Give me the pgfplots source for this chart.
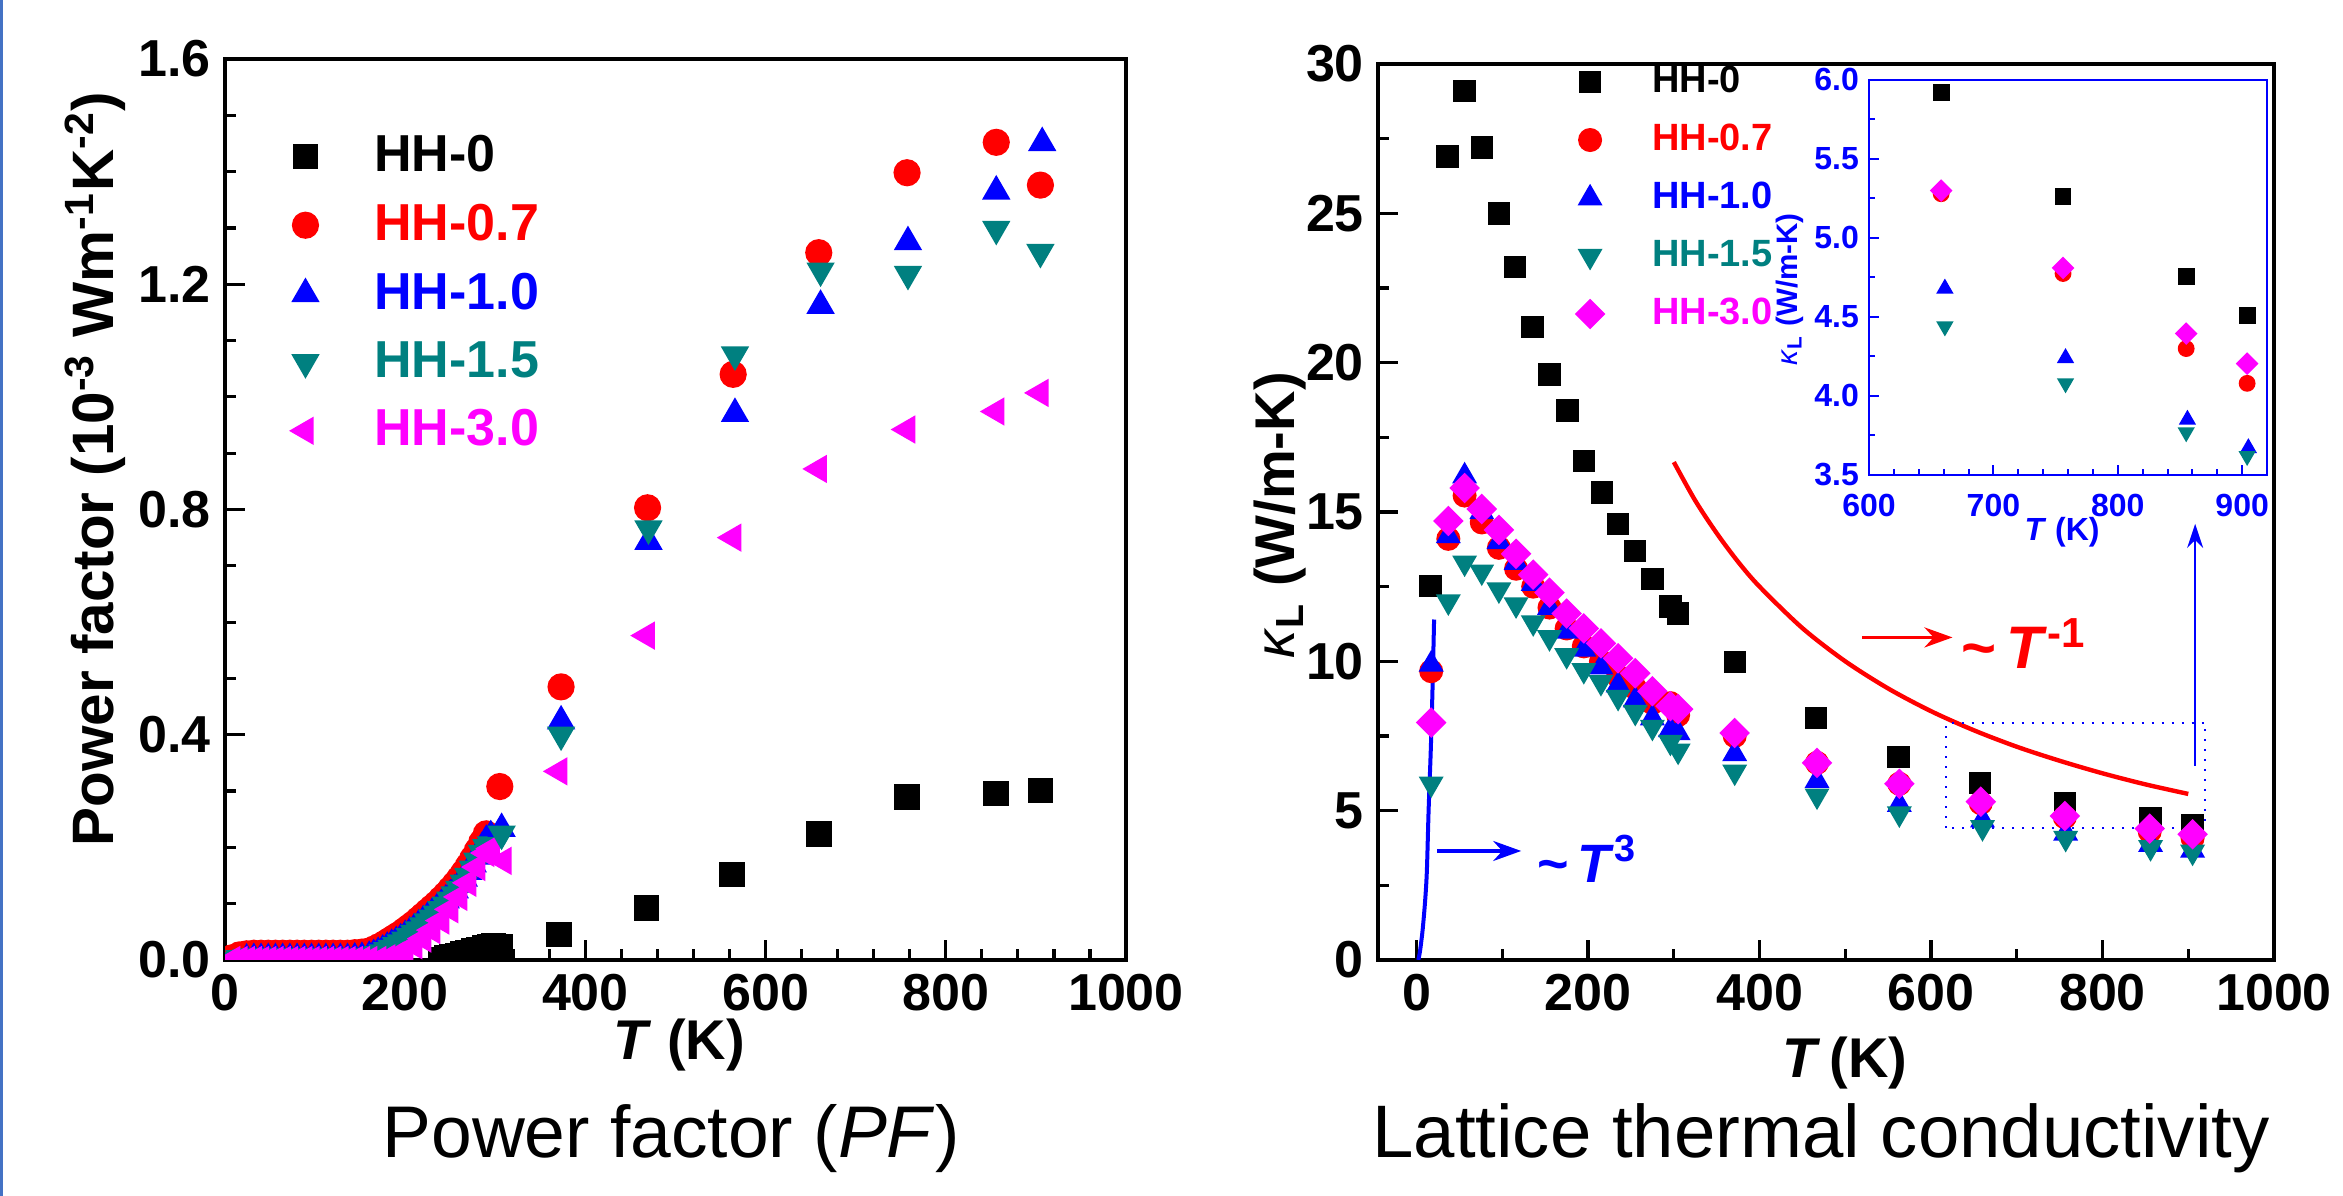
\documentclass[border=0pt]{standalone}
\usepackage{pgfplots}
\pgfplotsset{compat=1.18}
\usepackage{fontspec}
\setmainfont{Liberation Sans}
\usetikzlibrary{arrows.meta}
\definecolor{hhteal}{RGB}{0,128,128}
\definecolor{hhmag}{RGB}{255,0,255}
\definecolor{frameblue}{RGB}{68,114,196}
\newcommand\tickfont{\bfseries\fontsize{13}{15}\selectfont}
\newcommand\labfont{\bfseries\fontsize{14}{16}\selectfont}

\pgfplotsset{
  common/.style={
    scale only axis,
    axis line style={line width=0.9pt},
    every tick/.style={black, line width=0.8pt},
    major tick length=5pt,
    minor tick length=2.7pt,
    tick pos=left,
    tick align=inside,
    tick label style={font=\tickfont},
    /pgf/number format/assume math mode=true,
    /pgf/number format/1000 sep={},
    legend cell align=left,
    legend image code/.code={\draw[mark repeat=2,mark phase=2,##1] plot coordinates {(0pt,0pt) (5pt,0pt) (10pt,0pt)};},
  },
  lsq/.style={only marks, mark=square*, mark size=3.0pt, black},
  lci/.style={only marks, mark=*, mark size=3.2pt, red},
  ltu/.style={only marks, mark=triangle*, mark size=3.7pt, blue},
  ltd/.style={only marks, mark=triangle*, mark size=3.7pt, hhteal, mark options={rotate=180}},
  ltl/.style={only marks, mark=triangle*, mark size=3.7pt, hhmag, mark options={rotate=90}},
  rsq/.style={only marks, mark=square*, mark size=2.6pt, black},
  rci/.style={only marks, mark=*, mark size=2.8pt, red},
  rtu/.style={only marks, mark=triangle*, mark size=3.2pt, blue},
  rtd/.style={only marks, mark=triangle*, mark size=3.2pt, hhteal, mark options={rotate=180}},
  rdi/.style={only marks, mark=square*, mark size=2.5pt, hhmag, mark options={rotate=45}},
}

\begin{document}
\begin{tikzpicture}
\path[use as bounding box] (0,0) rectangle (585.75pt,299pt);
\draw[frameblue, line width=0.6pt] (0.4pt,0) -- (0.4pt,299pt);

% ---------------- Left: power factor ----------------
\begin{axis}[common,
  at={(56.25pt,59pt)}, anchor=south west,
  width=225.25pt, height=225.25pt,
  xmin=0, xmax=1000, ymin=0, ymax=1.6,
  xtick={0,200,400,600,800,1000}, minor x tick num=4,
  ytick={0,0.4,0.8,1.2,1.6}, minor y tick num=3,
  yticklabel style={/pgf/number format/fixed, /pgf/number format/fixed zerofill, /pgf/number format/precision=1},
  xlabel={\textit{T} (K)},
  xlabel style={at={(axis description cs:0.504,-0.094)}, anchor=center, font=\labfont},
  ylabel={Power factor (10\textsuperscript{-3} Wm\textsuperscript{-1}K\textsuperscript{-2})},
  ylabel style={at={(axis description cs:-0.144,0.545)}, anchor=center, font=\bfseries\fontsize{14.6}{16}\selectfont},
  clip marker paths=true,
  legend style={draw=none, fill=none, at={(0.072,0.925)}, anchor=north west,
    font=\bfseries\fontsize{13}{13}\selectfont, inner sep=0pt, row sep=2.6pt,
    /tikz/every odd column/.append style={column sep=12pt}},
]
% dense low-temperature data (forget plot)
\addplot[lsq, forget plot] coordinates {(210,-0.012)(216,-0.009)(222,-0.007)(228,-0.004)(234,-0.002)(240,0.001)(246,0.003)(252,0.006)(258,0.008)(264,0.011)(270,0.013)(276,0.016)(282,0.018)(288,0.021)(294,0.024)(298,0.026)};
\addplot[lci, forget plot] coordinates {(8,0.004)(16,0.009)(24,0.011)(32,0.012)(40,0.012)(48,0.012)(56,0.012)(64,0.012)(72,0.012)(80,0.012)(88,0.012)(96,0.012)(104,0.012)(112,0.012)(120,0.012)(128,0.012)(136,0.012)(144,0.013)(152,0.014)(160,0.016)(165,0.019)(170,0.023)(175,0.027)(180,0.032)(185,0.037)(190,0.042)(195,0.047)(200,0.053)(205,0.059)(210,0.065)(215,0.072)(220,0.079)(225,0.086)(230,0.093)(235,0.100)(240,0.108)(245,0.116)(250,0.125)(255,0.134)(260,0.144)(265,0.155)(270,0.167)(275,0.180)(280,0.194)(285,0.209)(290,0.224)};
\addplot[ltu, forget plot] coordinates {(8,-0.006)(16,-0.001)(24,0.001)(32,0.002)(40,0.002)(48,0.002)(56,0.002)(64,0.002)(72,0.002)(80,0.002)(88,0.002)(96,0.002)(104,0.002)(112,0.002)(120,0.002)(128,0.002)(136,0.002)(144,0.003)(152,0.004)(160,0.006)(165,0.009)(170,0.013)(175,0.017)(180,0.022)(185,0.027)(190,0.032)(195,0.037)(200,0.043)(205,0.049)(210,0.055)(215,0.062)(220,0.069)(225,0.076)(230,0.083)(235,0.090)(240,0.098)(245,0.106)(250,0.115)(255,0.124)(260,0.134)(265,0.145)(270,0.157)(275,0.170)(280,0.184)(285,0.199)(290,0.212)(295,0.220)};
\addplot[ltd, forget plot] coordinates {(8,0.000)(16,0.003)(24,0.005)(32,0.006)(40,0.006)(48,0.006)(56,0.006)(64,0.006)(72,0.006)(80,0.006)(88,0.006)(96,0.006)(104,0.006)(112,0.006)(120,0.006)(128,0.006)(136,0.006)(144,0.006)(152,0.006)(160,0.007)(165,0.008)(170,0.010)(175,0.013)(180,0.017)(185,0.021)(190,0.026)(195,0.031)(200,0.036)(205,0.042)(210,0.048)(215,0.054)(220,0.061)(225,0.068)(230,0.075)(235,0.082)(240,0.090)(245,0.098)(250,0.107)(255,0.116)(260,0.126)(265,0.137)(270,0.149)(275,0.162)(280,0.176)(285,0.190)(290,0.200)(295,0.205)};
\addplot[ltl, forget plot] coordinates {(8,0.000)(16,0.000)(24,0.000)(32,0.000)(40,0.000)(48,0.000)(56,0.000)(64,0.000)(72,0.000)(80,0.000)(88,0.000)(96,0.000)(104,0.000)(112,0.000)(120,0.000)(128,0.000)(136,0.000)(144,0.000)(152,0.000)(160,0.000)(170,0.000)(180,0.003)(190,0.008)(200,0.016)(210,0.026)(220,0.038)(230,0.053)(240,0.070)(250,0.090)(260,0.112)(270,0.137)(280,0.165)(290,0.190)(296,0.198)};
% main points
\addplot[lsq] coordinates {(305,0.024)(371,0.045)(468,0.092)(563,0.152)(659,0.224)(757,0.289)(856,0.296)(905,0.301)};
\addlegendentry{HH-0}
\addplot[lci] coordinates {(305,0.308)(373,0.485)(469,0.803)(564,1.040)(659,1.256)(757,1.398)(856,1.452)(905,1.376)};
\addlegendentry{\textcolor{red}{HH-0.7}}
\addplot[ltu] coordinates {(307,0.233)(373,0.424)(470,0.743)(566,0.970)(661,1.162)(758,1.275)(856,1.365)(907,1.451)};
\addlegendentry{\textcolor{blue}{HH-1.0}}
\addplot[ltd] coordinates {(307,0.224)(373,0.400)(470,0.766)(566,1.075)(661,1.224)(758,1.218)(856,1.298)(905,1.257)};
\addlegendentry{\textcolor{hhteal}{HH-1.5}}
\addplot[ltl] coordinates {(309,0.176)(371,0.335)(468,0.576)(564,0.750)(659,0.872)(757,0.942)(856,0.974)(905,1.007)};
\addlegendentry{\textcolor{hhmag}{HH-3.0}}
\end{axis}

% ---------------- Right: lattice thermal conductivity ----------------
\begin{axis}[common,
  at={(344.5pt,59pt)}, anchor=south west,
  width=224pt, height=224pt,
  xmin=-45, xmax=1000, ymin=0, ymax=30,
  xtick={0,200,400,600,800,1000}, minor x tick num=1,
  ytick={0,5,10,15,20,25,30}, minor y tick num=1,
  xlabel={\textit{T}\,(K)},
  xlabel style={at={(axis description cs:0.521,-0.115)}, anchor=center, font=\labfont},
  ylabel={\textit{\mdseries κ}\textsubscript{L} (W/m-K)},
  ylabel style={at={(axis description cs:-0.109,0.496)}, anchor=center, font=\labfont},
  legend style={draw=none, fill=none, at={(0.22,1.008)}, anchor=north west,
    font=\bfseries\fontsize{9.5}{9.5}\selectfont, inner sep=0pt, row sep=2.4pt,
    /tikz/every odd column/.append style={column sep=10pt}},
]
\addplot[blue, line width=1pt, smooth, forget plot] coordinates {(2,0)(4,0.3)(7,1)(10,2)(12,3)(14,5)(16.5,7)(18.5,9)(20.4,11.4)};
\addplot[red, line width=1.1pt, smooth, forget plot] coordinates {(300,16.67)(325,15.38)(350,14.29)(375,13.33)(400,12.5)(450,11.11)(500,10)(550,9.09)(600,8.33)(650,7.69)(700,7.14)(750,6.67)(800,6.25)(850,5.88)(900,5.56)};
\addplot[rsq] coordinates {(16,12.53)(36,26.9)(56,29.1)(76,27.2)(96,25.0)(115,23.2)(135,21.2)(155,19.6)(176,18.4)(195,16.7)(216,15.65)(235,14.6)(255,13.7)(275,12.75)(296,11.84)(305,11.6)(371,9.97)(466,8.1)(562,6.8)(657,5.92)(756,5.26)(856,4.75)(905,4.51)};
\addlegendentry{HH-0}
\addplot[rci] coordinates {(17,9.67)(37,14.1)(56,15.55)(76,14.65)(96,13.8)(116,13.1)(136,12.5)(155,11.8)(175,11.1)(195,10.5)(215,10.0)(235,9.5)(255,9.1)(275,8.6)(296,8.6)(305,8.2)(371,7.5)(467,6.6)(563,5.9)(658,5.25)(756,4.78)(855,4.30)(905,4.08)};
\addlegendentry{\textcolor{red}{HH-0.7}}
\addplot[rtu] coordinates {(17,9.9)(37,14.2)(56,16.2)(76,15.0)(96,14.0)(116,13.3)(136,12.6)(155,11.8)(175,11.0)(195,10.4)(215,9.8)(235,9.2)(255,8.7)(275,8.1)(296,7.7)(305,7.6)(371,6.9)(467,6.0)(563,5.2)(660,4.68)(757,4.24)(856,3.86)(905,3.67)};
\addlegendentry{\textcolor{blue}{HH-1.0}}
\addplot[rtd] coordinates {(17,5.9)(37,12.0)(56,13.3)(76,13.0)(96,12.4)(116,11.9)(136,11.3)(155,10.8)(175,10.2)(195,9.7)(215,9.3)(235,8.8)(255,8.3)(275,7.8)(296,7.3)(305,7.0)(371,6.3)(467,5.5)(563,4.9)(660,4.44)(757,4.08)(856,3.77)(905,3.62)};
\addlegendentry{\textcolor{hhteal}{HH-1.5}}
\addplot[rdi] coordinates {(17,7.95)(37,14.7)(56,15.8)(76,15.1)(96,14.4)(116,13.6)(136,12.9)(155,12.3)(175,11.6)(195,11.1)(215,10.6)(235,10.1)(255,9.6)(275,9.0)(296,8.5)(305,8.4)(371,7.6)(467,6.6)(563,5.9)(658,5.30)(756,4.82)(855,4.40)(905,4.21)};
\addlegendentry{\textcolor{hhmag}{HH-3.0}}
% annotations
\draw[blue, line width=0.9pt, -{Stealth[length=7pt,width=5pt]}] (axis cs:24,3.65) -- (axis cs:122,3.65);
\node[anchor=west, text=blue, font=\bfseries\fontsize{13.5}{14}\selectfont, inner sep=0pt] at (axis cs:140,3.4) {\textasciitilde\,\textit{T}\textsuperscript{3}};
\draw[red, line width=0.9pt, -{Stealth[length=7pt,width=5pt]}] (axis cs:520,10.8) -- (axis cs:625,10.8);
\node[anchor=west, text=red, font=\bfseries\fontsize{15}{15}\selectfont, inner sep=0pt] at (axis cs:635,10.6) {\textasciitilde\,\textit{T}\textsuperscript{-1}};
\draw[blue, dotted, line width=0.5pt] (axis cs:618,4.42) rectangle (axis cs:920,7.93);
\draw[blue, line width=0.5pt, -{Stealth[length=6pt,width=4pt]}] (axis cs:908,6.5) -- (axis cs:908,14.6);
\end{axis}

% ---------------- Inset ----------------
\begin{axis}[
  scale only axis,
  at={(467.25pt,180.25pt)}, anchor=south west,
  width=99.5pt, height=98.75pt,
  xmin=600, xmax=920, ymin=3.5, ymax=6.0,
  xtick={600,700,800,900}, minor x tick num=4,
  ytick={3.5,4.0,4.5,5.0,5.5,6.0}, minor y tick num=1,
  axis line style={blue, line width=0.6pt},
  every tick/.style={blue, line width=0.5pt},
  major tick length=2.5pt, minor tick length=1.5pt,
  tick pos=left, tick align=inside,
  tick label style={font=\bfseries\fontsize{8}{9}\selectfont, text=blue},
  /pgf/number format/assume math mode=true,
  yticklabel style={/pgf/number format/fixed, /pgf/number format/fixed zerofill, /pgf/number format/precision=1, xshift=1pt},
  xticklabel style={yshift=-1.2pt},
  xlabel={\textit{T} (K)},
  xlabel style={at={(axis description cs:0.485,-0.145)}, anchor=center, font=\bfseries\fontsize{8}{9}\selectfont, text=blue},
  ylabel={\textit{\mdseries κ}\textsubscript{L} (W/m-K)},
  ylabel style={at={(axis description cs:-0.2,0.47)}, anchor=center, font=\bfseries\fontsize{7.4}{8}\selectfont, text=blue},
]
\addplot[only marks, mark=square*, mark size=1.9pt, black] coordinates {(658,5.92)(756,5.26)(855,4.755)(904,4.51)};
\addplot[only marks, mark=*, mark size=1.9pt, red] coordinates {(658,5.28)(756,4.775)(855,4.30)(904,4.08)};
\addplot[only marks, mark=triangle*, mark size=2.1pt, blue] coordinates {(661,4.68)(758,4.24)(856,3.85)(905,3.67)};
\addplot[only marks, mark=triangle*, mark size=2.1pt, hhteal, mark options={rotate=180}] coordinates {(661,4.44)(758,4.08)(855,3.77)(904,3.62)};
\addplot[only marks, mark=square*, mark size=1.8pt, hhmag, mark options={rotate=45}] coordinates {(658,5.30)(756,4.81)(855,4.395)(904,4.205)};
\end{axis}

% captions
\node[anchor=base, font=\fontsize{18.3}{20}\selectfont] at (167.75pt,9.5pt) {Power factor (\textit{PF})};
\node[anchor=base, font=\fontsize{18.6}{20}\selectfont] at (455.25pt,9.5pt) {Lattice thermal conductivity};
\end{tikzpicture}
\end{document}
